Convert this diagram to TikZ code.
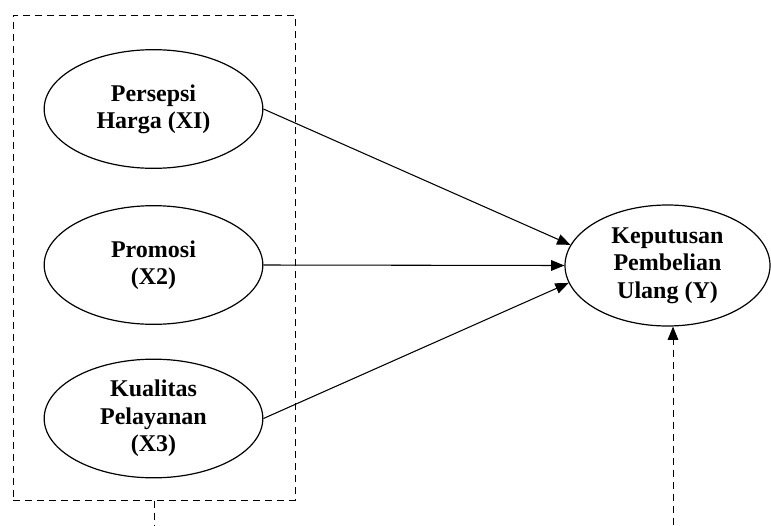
\documentclass[tikz,border=0pt]{standalone}
\usepackage{fontspec}
\setmainfont{Liberation Serif}
\usetikzlibrary{arrows.meta, shapes.geometric}
\tikzset{
  var/.style={draw, ellipse, line width=0.9pt, inner sep=0pt, align=center,
    minimum width=164pt, minimum height=89pt,
    font=\fontsize{18}{20.5}\selectfont\bfseries},
  grp/.style={draw, dash pattern=on 5.5pt off 3.5pt, line width=0.75pt,
    minimum width=211.5pt, minimum height=363.75pt, inner sep=0pt},
  pfeil/.style={-{Triangle[length=10pt, width=8pt]}, line width=0.8pt},
  strich/.style={dash pattern=on 5.5pt off 3.5pt, line width=0.75pt},
}

\begin{document}
\begin{tikzpicture}[x=0.75pt, y=-0.75pt]
    \useasboundingbox (0,0) rectangle (771,525);

    \node[grp] (G) at (154,257.5) {};

    \node[var] (X1) at (153.5,109) {Persepsi\\Harga (XI)};
    \node[var] (X2) at (153.5,265) {Promosi\\(X2)};
    \node[var] (X3) at (153.5,418.5) {Kualitas\\Pelayanan\\(X3)};
    \node[var, minimum width=153.75pt, minimum height=90.75pt] (Y) at (667.5,265.5)
      {Keputusan\\Pembelian\\Ulang (Y)};

    \coordinate (gs) at (154,525);
    \coordinate (ys) at (673,525);

    \draw[pfeil] (X1.east) -- (Y.168);
    \draw[pfeil] (X2.east) -- (Y.west);
    \draw[pfeil] (X3.east) -- (Y.190);
    \draw[strich] (G.south) -- (gs);
    \draw[pfeil, strich] (ys) -- (Y.south -| ys);
  \end{tikzpicture}
\end{document}
